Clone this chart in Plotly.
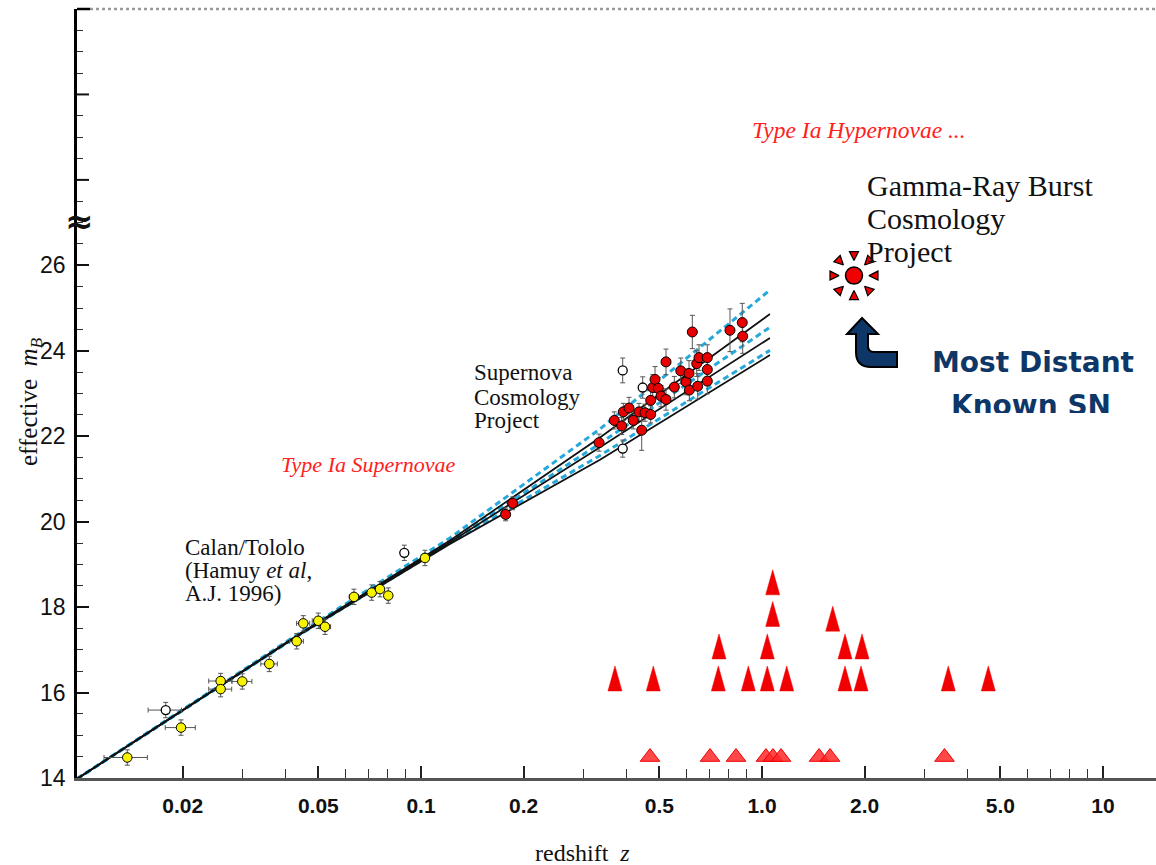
import plotly.graph_objects as go

# ---------------- data ----------------
# Calan/Tololo low-redshift SNe Ia (yellow)
ct_z = [0.01376, 0.01978, 0.02585, 0.02585, 0.02992, 0.03590, 0.04320, 0.04516,
        0.04998, 0.05231, 0.06360, 0.07168, 0.07581, 0.08017, 0.1027]
ct_m = [14.48, 15.18, 16.27, 16.08, 16.26, 16.67, 17.20, 17.62,
        17.68, 17.54, 18.24, 18.34, 18.42, 18.27, 19.15]
ct_dz = [0.002] * len(ct_z)
ct_dm = [0.18] * len(ct_z)

# Supernova Cosmology Project (red)
scp_z = [0.1771, 0.1857, 0.3327, 0.3688, 0.3878, 0.3920, 0.4074, 0.4194, 0.4358,
         0.4438, 0.4538, 0.4716, 0.4716, 0.4781, 0.4855, 0.4965, 0.5056, 0.5230,
         0.5230, 0.5532, 0.5777, 0.5987, 0.6109, 0.6122, 0.6247, 0.6435, 0.6478,
         0.6535, 0.6912, 0.6912, 0.6912, 0.8055, 0.8752, 0.8777]
scp_m = [20.17, 20.43, 21.85, 22.37, 22.24, 22.57, 22.66, 22.37, 22.57,
         22.14, 22.55, 22.51, 22.84, 23.14, 23.33, 23.12, 22.94, 22.86,
         23.74, 23.15, 23.53, 23.27, 23.47, 23.08, 24.44, 23.70, 23.17,
         23.84, 23.84, 23.56, 23.29, 24.48, 24.66, 24.34]
scp_dm = [0.15, 0.15, 0.20, 0.20, 0.20, 0.20, 0.25, 0.20, 0.20,
          0.47, 0.20, 0.20, 0.25, 0.30, 0.30, 0.25, 0.25, 0.25,
          0.30, 0.25, 0.30, 0.30, 0.30, 0.25, 0.39, 0.30, 0.30,
          0.30, 0.30, 0.30, 0.30, 0.50, 0.45, 0.40]

# excluded supernovae (open circles)
open_z = [0.01784, 0.08933, 0.3904, 0.4468, 0.3904]
open_m = [15.59, 19.27, 23.54, 23.14, 21.71]
open_dz = [0.002, 0.002, 0.0, 0.0, 0.0]
open_dm = [0.18, 0.18, 0.29, 0.25, 0.20]

# model curves
model_z = [0.0098, 0.0442, 0.1216, 0.3349, 1.055]
cyan_curves = [
    [13.98, 17.40, 19.62, 22.17, 25.42],
    [13.98, 17.38, 19.54, 21.83, 24.55],
    [13.98, 17.36, 19.50, 21.55, 24.01],
]
black_curves = [
    [13.98, 17.38, 19.56, 21.97, 24.86],
    [13.98, 17.37, 19.52, 21.74, 24.30],
    [13.98, 17.36, 19.48, 21.45, 23.90],
]

# GRB redshift histogram (stacked red triangles)
grb_hist_z = [0.3705, 0.4800, 0.7446, 0.9117, 1.0364, 1.1816, 1.7515, 1.9515, 3.518, 4.609,
              0.7480, 1.0364, 1.7515, 1.965,
              1.0749, 1.612,
              1.0749]
grb_hist_m = [16.33] * 10 + [17.08] * 4 + [17.84, 17.73] + [18.58]

# small triangles along the bottom
grb_obs_z = [0.4694, 0.7040, 0.8390, 1.027, 1.077, 1.137, 1.470, 1.583, 3.429]
grb_obs_m = [14.49] * len(grb_obs_z)

# most distant SN / GRB marker
sun_z = [1.861]
sun_m = [25.76]

x_tick_vals = [0.02, 0.05, 0.1, 0.2, 0.5, 1, 2, 5, 10]
x_tick_text = ["0.02", "0.05", "0.1", "0.2", "0.5", "1.0", "2.0", "5.0", "10"]
x_minor_vals = [0.03, 0.04, 0.06, 0.07, 0.08, 0.09, 0.3, 0.4, 0.6, 0.7, 0.8, 0.9,
                3, 4, 6, 7, 8, 9]
y_tick_vals = [14, 16, 18, 20, 22, 24, 26]
y_tick_text = ["14", "16", "18", "20", "22", "24", "26"]
y_upper_major = [28, 30]
y_minor_vals = [v / 2 for v in range(28, 64) if v % 4 != 0 and v not in (56, 60)]

# ---------------- geometry ----------------
W, H = 1156, 865
ML, MR, MT, MB = 77, 0, 9, 87
PW, PH = W - ML - MR, H - MT - MB
XR = [-2.0088, 1.1554]
YR = [14.0, 32.0]
PX_DEC = PW / (XR[1] - XR[0])
PX_MAG = PH / (YR[1] - YR[0])


def pp(x, y):
    return (x - ML) / PW, (H - MB - y) / PH


def px2z(x):
    return 10 ** (XR[0] + (x - ML) / PX_DEC)


def px2m(y):
    return YR[0] + (H - MB - y) / PX_MAG


RED = "#f00000"
CYAN = "#25a9dc"
NAVY = "#0e3767"
SERIF = "Liberation Serif"
SANS = "Liberation Sans"

fig = go.Figure()

# model curves
for c in cyan_curves:
    fig.add_trace(go.Scatter(x=model_z, y=c, mode="lines",
                             line=dict(color=CYAN, width=3, dash="6px,4px")))
for c in black_curves:
    fig.add_trace(go.Scatter(x=model_z, y=c, mode="lines",
                             line=dict(color="#111111", width=1.8)))

err_style = dict(color="#555555", thickness=1, width=2.5)

# open circles
fig.add_trace(go.Scatter(
    x=open_z, y=open_m, mode="markers",
    error_x=dict(type="data", array=open_dz, **err_style),
    error_y=dict(type="data", array=open_dm, **err_style),
    marker=dict(size=9, color="white", line=dict(color="black", width=1.3))))

# Calan/Tololo
fig.add_trace(go.Scatter(
    x=ct_z, y=ct_m, mode="markers",
    error_x=dict(type="data", array=ct_dz, **err_style),
    error_y=dict(type="data", array=ct_dm, **err_style),
    marker=dict(size=9.5, color="#f7f200", line=dict(color="black", width=1))))

# SCP
fig.add_trace(go.Scatter(
    x=scp_z, y=scp_m, mode="markers",
    error_y=dict(type="data", array=scp_dm, **err_style),
    marker=dict(size=10, color="#e80000", line=dict(color="black", width=1))))

# tall triangles (histogram)
TRI_HALF_W_PX = 7
TRI_H_PX = 25
hw = TRI_HALF_W_PX / PX_DEC
hh = TRI_H_PX / PX_MAG
tx, ty = [], []
for z, m in zip(grb_hist_z, grb_hist_m):
    tx += [z * 10 ** -hw, z * 10 ** hw, z, z * 10 ** -hw, None]
    ty += [m - hh / 2, m - hh / 2, m + hh / 2, m - hh / 2, None]
fig.add_trace(go.Scatter(x=tx, y=ty, mode="lines", fill="toself",
                         fillcolor=RED, line=dict(color=RED, width=0.5)))

# bottom small triangles
fig.add_trace(go.Scatter(
    x=grb_obs_z, y=grb_obs_m, mode="markers",
    marker=dict(symbol="triangle-up", size=17, color="rgba(255,40,40,0.85)",
                line=dict(color=RED, width=1))))

# sun marker: spikes + disc
fig.add_trace(go.Scatter(
    x=sun_z * 8, y=sun_m * 8, mode="markers",
    marker=dict(symbol="arrow-up", size=9, angle=list(range(0, 360, 45)),
                standoff=15, color=RED, line=dict(color="black", width=1.2))))
fig.add_trace(go.Scatter(
    x=sun_z, y=sun_m, mode="markers",
    marker=dict(size=17, color=RED, line=dict(color="black", width=1.5))))

# "Known SN" as a text trace (so it can be clipped by a shape)
fig.add_trace(go.Scatter(
    x=[px2z(1031)], y=[px2m(408)], mode="text", text=["<b>Known SN</b>"],
    textposition="middle center", cliponaxis=False,
    textfont=dict(family="DejaVu Sans", size=28, color=NAVY)))

# ---------------- annotations ----------------
annotations = []


def ann(text, px, py, size, color="#111111", family=SERIF, xanchor="left", angle=0):
    x, y = pp(px, py)
    annotations.append(dict(text=text, x=x, y=y, xref="paper", yref="paper",
                            xanchor=xanchor, yanchor="middle", showarrow=False,
                            textangle=angle,
                            font=dict(family=family, size=size, color=color)))


ann("<i>Type Ia Hypernovae ...</i>", 750, 130, 23.5, color="#ff2020")
ann("Gamma-Ray Burst", 865, 185, 30)
ann("Cosmology", 865, 218, 30)
ann("Project", 865, 251, 30)
ann("Supernova", 472, 373, 23)
ann("Cosmology", 472, 397, 23)
ann("Project", 472, 420, 23)
ann("Calan/Tololo", 183, 547, 23)
ann("(Hamuy <i>et al</i>,", 183, 570, 23)
ann("A.J. 1996)", 183, 593, 23)
ann("<i>Type Ia Supernovae</i>", 279, 464, 22, color="#ff2020")
ann("<b>Most Distant</b>", 930, 362, 28, color=NAVY, family="DejaVu Sans")
ann("effective  <i>m<sub>B</sub></i>", 30, 402, 25, xanchor="center", angle=-90)
ann("redshift  <i>z</i>", 582, 853, 24, xanchor="center")
ann("<b>≈</b>", 79, 221, 34, color="#111111", family="DejaVu Sans", xanchor="center")

# ---------------- shapes ----------------
shapes = []
# arrow
arrow_pts = [("M", 862, 318), ("L", 878, 334), ("L", 868, 334), ("L", 868, 346),
             ("Q", 868, 352), ("", 874, 352), ("L", 897, 352), ("L", 897, 367),
             ("L", 871, 367), ("Q", 856, 367), ("", 856, 352), ("L", 856, 334),
             ("L", 847, 334)]
path = ""
for cmd, x, y in arrow_pts:
    X, Y = pp(x, y)
    path += f"{cmd}{X:.5f},{Y:.5f} "
path += "Z"
shapes.append(dict(type="path", path=path, xref="paper", yref="paper",
                   fillcolor=NAVY, line=dict(color="black", width=2), layer="above"))

# white cover clipping "Known SN"
x0, y0 = pp(935, 413)
x1, y1 = pp(1125, 445)
shapes.append(dict(type="rect", xref="paper", yref="paper", x0=x0, y0=y1, x1=x1, y1=y0,
                   fillcolor="white", line=dict(width=0), layer="above"))

# long unlabeled ticks above the axis break
for v in y_upper_major:
    shapes.append(dict(type="line", xref="paper", yref="y", x0=0, x1=12 / PW, y0=v, y1=v,
                       line=dict(color="#111111", width=2)))

# top frame
xa, _ = pp(90, 9)
shapes.append(dict(type="line", xref="paper", yref="paper", x0=xa, x1=1, y0=1, y1=1,
                   line=dict(color="#9a9a9a", width=2.5, dash="dot")))
shapes.append(dict(type="line", xref="paper", yref="paper", x0=0, x1=xa, y0=1, y1=1,
                   line=dict(color="black", width=2.5)))

fig.update_layout(
    width=W, height=H,
    margin=dict(l=ML, r=MR, t=MT, b=MB, pad=0),
    paper_bgcolor="white", plot_bgcolor="white",
    showlegend=False,
    annotations=annotations,
    shapes=shapes,
    xaxis=dict(
        type="log", range=XR, showgrid=False, zeroline=False,
        showline=True, linecolor="#555555", linewidth=2.5,
        tickmode="array", tickvals=x_tick_vals,
        ticktext=[f"<b>{t}</b>" for t in x_tick_text],
        ticks="inside", ticklen=12, tickwidth=1.5, tickcolor="#222222",
        ticklabelstandoff=7,
        tickfont=dict(family=SANS, size=21, color="#111111"),
        minor=dict(tickmode="array", tickvals=x_minor_vals, ticks="inside",
                   ticklen=9, tickwidth=1.3, tickcolor="#333333"),
    ),
    yaxis=dict(
        range=YR, showgrid=False, zeroline=False,
        showline=True, linecolor="black", linewidth=2.5,
        tickmode="array", tickvals=y_tick_vals, ticktext=y_tick_text,
        ticks="inside", ticklen=12, tickwidth=2, tickcolor="#111111",
        ticklabelstandoff=4,
        tickfont=dict(family=SANS, size=23, color="#111111"),
        minor=dict(tickmode="array", tickvals=y_minor_vals, ticks="inside",
                   ticklen=6, tickwidth=1.3, tickcolor="#333333"),
    ),
)

fig.write_html("out.html")
